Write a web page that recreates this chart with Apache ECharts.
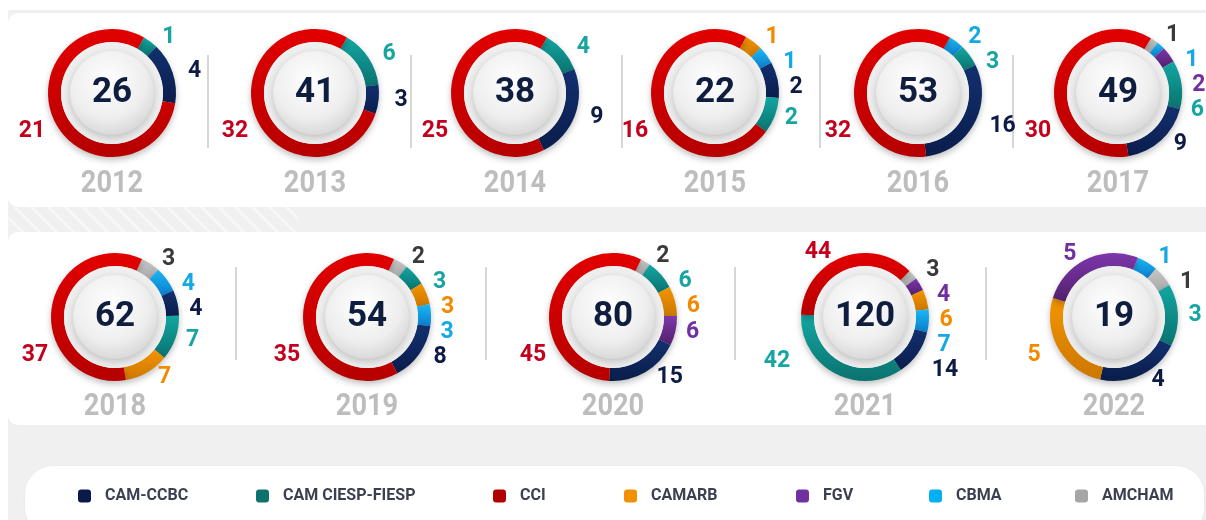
<!DOCTYPE html>
<html>
<head>
<meta charset="utf-8">
<script src="https://cdn.jsdelivr.net/npm/echarts@6/dist/echarts.min.js"></script>
<style>
  html, body { margin: 0; padding: 0; background: #fff; }
  #wrap { position: relative; width: 1206px; height: 520px; overflow: hidden; }
  .bg { position: absolute; left: 8px; top: 10px; right: 0; bottom: 0; background: #f0f0f0; }
  .stripes { position: absolute; left: 8px; top: 207px; width: 290px; height: 25px;
    background: repeating-linear-gradient(45deg, #f0f0f0 0 9px, #f7f7f7 9px 12px); }
  .panel { position: absolute; left: 8px; width: 1230px; background: #fff; border-radius: 10px; }
  .pill { position: absolute; left: 25px; top: 466px; width: 1179px; height: 70px; background: #fff;
    border-radius: 28px; box-shadow: 0 1px 3px rgba(0,0,0,0.06); }
  #chart { position: absolute; left: 0; top: 0; width: 1250px; height: 520px; }
</style>
</head>
<body>
<div id="wrap">
  <div class="bg"></div>
  <div class="stripes"></div>
  <div class="panel" style="top:13px;height:194px"></div>
  <div class="panel" style="top:232px;height:193px"></div>
  <div class="pill"></div>
  <div id="chart"></div>
</div>
<script>
// anos e instituições
const years = ['2012', '2013', '2014', '2015', '2016', '2017', '2018', '2019', '2020', '2021', '2022'];
const names = ['CAM-CCBC', 'CAM CIESP-FIESP', 'CCI', 'CAMARB', 'FGV', 'CBMA', 'AMCHAM'];

// casos por ano (mesma ordem de years)
const ccbc   = [4, 3, 9, 2, 16, 9, 4, 8, 15, 14, 4];
const ciesp  = [1, 6, 4, 2, 3, 6, 7, 3, 6, 42, 3];
const cci    = [21, 32, 25, 16, 32, 30, 37, 35, 45, 44, 0];
const camarb = [0, 0, 0, 1, 0, 0, 7, 3, 6, 6, 5];
const fgv    = [0, 0, 0, 0, 0, 2, 0, 0, 6, 4, 5];
const cbma   = [0, 0, 0, 1, 2, 1, 4, 3, 0, 7, 1];
const amcham = [0, 0, 0, 0, 0, 1, 3, 2, 2, 3, 1];
const values = [ccbc, ciesp, cci, camarb, fgv, cbma, amcham];

// ordem horaria dos segmentos em cada rosca (indices de names)
const order = [
  [1, 0, 2], [1, 0, 2], [1, 0, 2],
  [3, 5, 0, 1, 2],
  [5, 1, 0, 2],
  [6, 5, 4, 1, 0, 2],
  [6, 5, 0, 1, 3, 2],
  [6, 1, 3, 5, 0, 2],
  [6, 1, 3, 4, 0, 2],
  [6, 4, 3, 5, 0, 1, 2],
  [5, 6, 1, 0, 3, 4]
];
const startAngles = [60, 60, 60, 61, 60, 59, 65, 65, 64, 46, 68];

const FONT = "Roboto, 'Liberation Sans', sans-serif";
const ringColors = [
  ['#12306f', '#0a1d4b'],
  ['#13a6a2', '#0a726e'],
  ['#e20000', '#b60000'],
  ['#f39400', '#cc7700'],
  ['#7d37ab', '#52206c'],
  ['#1cb8f2', '#0a7ccd'],
  ['#c6c6c6', '#a9a9a9']
];
const legendColors = ['#0b1a48', '#0e736e', '#b00000', '#f39000', '#7030a0', '#00b0f0', '#a6a6a6'];
const labelColors = ['#0d1b45', '#17a5a2', '#c4001c', '#f28a00', '#7030a0', '#14a9e6', '#3a3a3a'];

const row1X = [112, 315, 515, 715, 918, 1118];
const row2X = [115, 367, 613, 865, 1114];
const row1Y = 93, row2Y = 317;

const grad = (c) => new echarts.graphic.LinearGradient(0, 0, 0, 1, [
  { offset: 0, color: c[0] }, { offset: 1, color: c[1] }
]);

// o segmento que passa pelo lado inferior esquerdo (205 graus) leva o rotulo para la
const lowerLeftIndex = (vals, start) => {
  const total = vals.reduce((s, v) => s + v, 0);
  let t = 205;
  while (t > start) t -= 360;
  let a = start;
  for (let j = 0; j < vals.length; j++) {
    const b = a - vals[j] / total * 360;
    if (t <= a && t >= b) return j;
    a = b;
  }
  return -1;
};

const series = [];
const graphic = [];

years.forEach((yr, i) => {
  const cx = i < 6 ? row1X[i] : row2X[i - 6];
  const cy = i < 6 ? row1Y : row2Y;
  const items = order[i].map(k => ({
    name: names[k],
    value: values[k][i],
    itemStyle: { color: grad(ringColors[k]) },
    label: { color: labelColors[k] }
  }));
  const total = items.reduce((s, d) => s + d.value, 0);
  const big = lowerLeftIndex(items.map(d => d.value), startAngles[i]);
  const bigOff = i === 9 ? [-88, 44] : [-80, 38];

  // anel
  series.push({
    type: 'pie',
    name: yr,
    center: [cx, cy],
    radius: [51, 64],
    startAngle: startAngles[i],
    clockwise: true,
    avoidLabelOverlap: true,
    silent: true,
    itemStyle: { shadowBlur: 6, shadowColor: 'rgba(0,0,0,0.25)', shadowOffsetY: 3 },
    label: {
      show: true,
      position: 'outside',
      formatter: '{c}',
      fontFamily: FONT,
      fontSize: 23,
      fontWeight: 'bold'
    },
    labelLine: { show: false, length: 6, length2: 0 },
    labelLayout: (p) => {
      const r = p.labelRect;
      const mx = r.x + r.width / 2, my = r.y + r.height / 2;
      if (p.dataIndex === big) return { dx: cx + bigOff[0] - mx, dy: cy + bigOff[1] - my };
      return { dx: (mx - cx) * 0.06 };
    },
    data: items
  });
  // halo
  series.push({
    type: 'pie',
    name: yr + '-halo',
    center: [cx, cy],
    radius: [0, 51],
    silent: true,
    label: { show: false },
    itemStyle: { color: '#efefef' },
    data: [{ name: '', value: total }]
  });
  // botao central com total
  series.push({
    type: 'pie',
    name: yr + '-total',
    center: [cx, cy],
    radius: [0, 42],
    silent: true,
    itemStyle: {
      color: new echarts.graphic.RadialGradient(0.45, 0.35, 0.75, [
        { offset: 0, color: '#ffffff' },
        { offset: 0.6, color: '#eeeeee' },
        { offset: 1, color: '#cfcfcf' }
      ]),
      shadowBlur: 8,
      shadowColor: 'rgba(0,0,0,0.2)',
      shadowOffsetY: 3
    },
    label: {
      show: true,
      position: 'center',
      formatter: '{c}',
      color: '#0f1d3f',
      fontFamily: FONT,
      fontSize: 35,
      fontWeight: 'bold'
    },
    labelLine: { show: false },
    data: [{ name: yr, value: total }]
  });

  graphic.push({
    type: 'text',
    x: cx,
    y: i < 6 ? 184 : 407,
    scaleX: 0.85,
    silent: true,
    style: {
      text: yr,
      textAlign: 'center',
      textVerticalAlign: 'middle',
      font: 'bold 32px ' + FONT,
      fill: '#bdbdbd'
    }
  });
});

// separadores
[208, 411, 622, 820, 1013].forEach(x => graphic.push({
  type: 'line', silent: true, shape: { x1: x, y1: 55, x2: x, y2: 148 },
  style: { stroke: '#c9c9c9', lineWidth: 1.5 }
}));
[236, 486, 735, 986].forEach(x => graphic.push({
  type: 'line', silent: true, shape: { x1: x, y1: 267, x2: x, y2: 360 },
  style: { stroke: '#c9c9c9', lineWidth: 1.5 }
}));

const legendLeft = [73, 251, 488, 619, 791, 924, 1070];
const legend = names.map((n, k) => ({
  left: legendLeft[k],
  top: 483,
  icon: 'roundRect',
  itemWidth: 13,
  itemHeight: 13,
  selectedMode: false,
  data: [{ name: n, itemStyle: { color: legendColors[k] } }],
  textStyle: {
    color: '#3b3f4f',
    fontFamily: FONT,
    fontSize: 16,
    fontWeight: 'bold',
    padding: [0, 0, 0, 9]
  }
}));

const chart = echarts.init(document.getElementById('chart'));
chart.setOption({
  backgroundColor: 'transparent',
  animation: false,
  legend: legend,
  graphic: graphic,
  series: series
});
</script>
</body>
</html>
